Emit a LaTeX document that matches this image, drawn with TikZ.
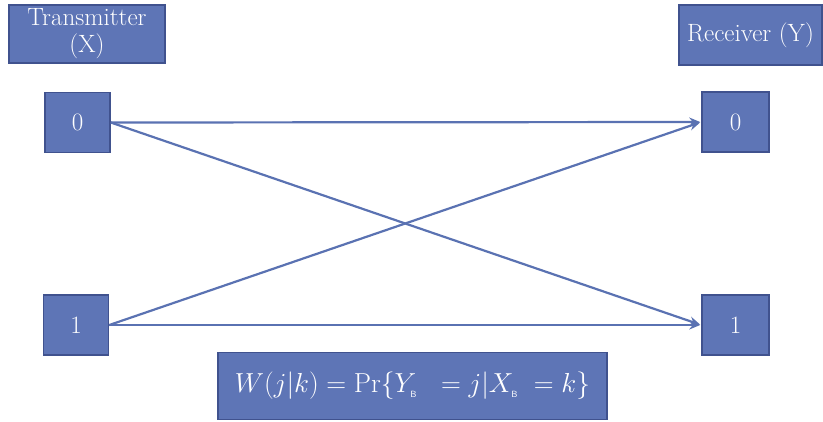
\RequirePackage{fix-cm}
\documentclass[tikz,border=0pt]{standalone}
\usepackage{fontspec}
\usetikzlibrary{arrows.meta}
\definecolor{boxfill}{HTML}{5E75B6}
\definecolor{boxedge}{HTML}{40528E}
\definecolor{linec}{HTML}{5A72B2}
\tikzset{
  box/.style={draw=boxedge, line width=1.6pt, fill=boxfill, text=white, inner sep=0pt, align=center, font=\fontsize{25}{27}\selectfont},
  link/.style={draw=linec, line width=2.2pt, -{Stealth[length=11pt,width=9pt]}, shorten >=1pt},
}
\begin{document}
\begin{tikzpicture}[x=1pt,y=-1pt]
\useasboundingbox (0,0) rectangle (823,421);
\node[box, minimum width=156pt, minimum height=58pt] (tx) at (87,34) {Transmitter\\(X)};
\node[box, minimum width=143pt, minimum height=60pt] (rx) at (750.5,35) {Receiver (Y)};
\node[box, minimum width=65pt, minimum height=60pt] (a0) at (77.5,122.5) {0};
\node[box, minimum width=65pt, minimum height=60pt] (a1) at (76,325) {1};
\node[box, minimum width=67pt, minimum height=60pt] (b0) at (735.5,122) {0};
\node[box, minimum width=67pt, minimum height=60pt] (b1) at (735.5,325) {1};
\node[box, minimum width=389pt, minimum height=67pt] (f) at (412.5,386) {\fontsize{27.5}{29}\selectfont $W(j|k) = \mathrm{Pr}\{Y_{\textsf{\fontsize{9}{9}\selectfont B}}\ \ = j|X_{\textsf{\fontsize{9}{9}\selectfont B}}\ = k\}$};
\draw[link] (a0.east) -- (b0.west);
\draw[link] (a0.east) -- (b1.west);
\draw[link] (a1.east) -- (b0.west);
\draw[link] (a1.east) -- (b1.west);
\end{tikzpicture}
\end{document}
